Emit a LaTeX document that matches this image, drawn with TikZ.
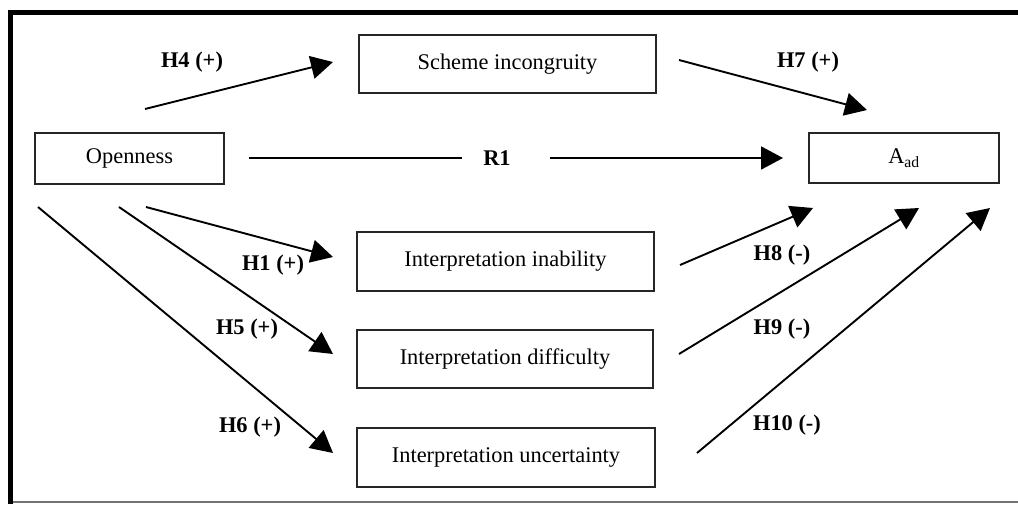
\documentclass[tikz,border=0pt]{standalone}
\usepackage{fontspec}
\setmainfont{Liberation Serif}
\usetikzlibrary{arrows.meta}
\begin{document}
\begin{tikzpicture}[x=1pt,y=-1pt,
  box/.style={draw=black!85,line width=1.8pt,rectangle,inner sep=0pt,font=\fontsize{22.4}{26}\selectfont},
  lab/.style={font=\fontsize{22.4}{26}\selectfont\bfseries,inner sep=1pt},
  arr/.style={line width=1.9pt,-{Triangle[length=22pt,width=23pt]}},
  ln/.style={line width=1.9pt}]
\useasboundingbox (0,0) rectangle (1018,504);
% frame
\fill[black] (8,10) rectangle (1018,15);
\fill[black] (8,10) rectangle (13,504);
\draw[black!55,line width=1.2pt] (13,502) -- (1018,502);
% boxes
\node[box,minimum width=189pt,minimum height=51pt] (open) at (129.5,158.5) {Openness};
\node[box,minimum width=297pt,minimum height=58pt] (scheme) at (507.5,64) {Scheme incongruity};
\node[box,minimum width=190pt,minimum height=50pt] (aad) at (904,158) {A\textsubscript{ad}};
\node[box,minimum width=297pt,minimum height=59pt] (inab) at (505.5,261.5) {Interpretation inability};
\node[box,minimum width=296pt,minimum height=58pt] (diff) at (505,359) {Interpretation difficulty};
\node[box,minimum width=298pt,minimum height=59pt] (unc) at (506,457.5) {Interpretation uncertainty};
% connector end points
\coordinate (h4s) at (145,109);  \coordinate (h4e) at (333,62);
\coordinate (h7s) at (679,60);   \coordinate (h7e) at (867,110);
\coordinate (r1s) at (249,158);  \coordinate (r1a) at (462,158);
\coordinate (r1b) at (550,158);  \coordinate (r1e) at (783,158);
\coordinate (h1s) at (146,207);  \coordinate (h1e) at (333,257);
\coordinate (h5s) at (119,207);  \coordinate (h5e) at (333,354);
\coordinate (h6s) at (38,207);   \coordinate (h6e) at (333,453);
\coordinate (h8s) at (680,265);  \coordinate (h8e) at (813,208);
\coordinate (h9s) at (679,354);  \coordinate (h9e) at (919,208);
\coordinate (h10s) at (697,453); \coordinate (h10e) at (990,208);
% connectors
\draw[arr] (h4s) -- (h4e);
\draw[arr] (h7s) -- (h7e);
\draw[ln] (r1s) -- (r1a);
\draw[arr] (r1b) -- (r1e);
\draw[arr] (h1s) -- (h1e);
\draw[arr] (h5s) -- (h5e);
\draw[arr] (h6s) -- (h6e);
\draw[arr] (h8s) -- (h8e);
\draw[arr] (h9s) -- (h9e);
\draw[arr] (h10s) -- (h10e);
% labels
\node[lab] (l4) at (192,62) {H4 (+)};
\node[lab] (l7) at (808,62) {H7 (+)};
\node[lab] (lr1) at (497,158) {R1};
\node[lab] (l1) at (273,265) {H1 (+)};
\node[lab] (l5) at (247,329) {H5 (+)};
\node[lab] (l6) at (250,427) {H6 (+)};
\node[lab] (l8) at (782,255) {H8 (-)};
\node[lab] (l9) at (782,329) {H9 (-)};
\node[lab] (l10) at (787,425) {H10 (-)};
\end{tikzpicture}
\end{document}
